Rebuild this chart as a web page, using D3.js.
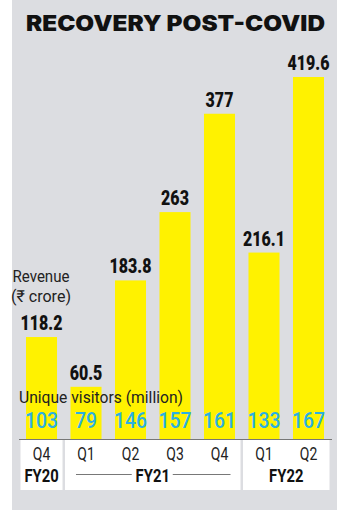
<!DOCTYPE html>
<html><head><meta charset="utf-8">
<script src="https://cdn.jsdelivr.net/npm/d3@7"></script>
<style>html,body{margin:0;padding:0;background:#fff;}svg{display:block;}</style>
</head><body>
<script>
const quarters = ["Q4","Q1","Q2","Q3","Q4","Q1","Q2"];
const fiscalYears = ["FY20","FY21","FY21","FY21","FY21","FY22","FY22"];
const revenue = [118.2,60.5,183.8,263,377,216.1,419.6];
const visitors = [103,79,146,157,161,133,167];
const groups = ["FY20","FY21","FY22"];

const W = 350, H = 510;
const FONT = "Roboto, sans-serif";
const svg = d3.select("body").append("svg").attr("width", W).attr("height", H);

svg.append("rect").attr("x",12).attr("y",0).attr("width",325).attr("height",H).attr("fill","#dcdde1");

svg.append("text").attr("x",26).attr("y",30.5)
  .attr("font-family","Inter, 'Open Sans', sans-serif").attr("font-weight",900)
  .attr("font-size",21.5).attr("fill","#111")
  .attr("textLength",299).attr("lengthAdjust","spacingAndGlyphs")
  .text("RECOVERY POST-COVID");

const idx = d3.range(quarters.length);
const x = d3.scaleBand().domain(idx).range([26,324]).paddingInner(0.303).paddingOuter(0);
const y = d3.scaleLinear().domain([0, d3.max(revenue)]).range([439, 77]);
const cx = i => x(i) + x.bandwidth()/2;

svg.selectAll("rect.bar").data(idx).join("rect").attr("class","bar")
  .attr("x", i => x(i)).attr("width", x.bandwidth())
  .attr("y", i => y(revenue[i])).attr("height", i => y(0) - y(revenue[i]))
  .attr("fill","#fff200");

svg.selectAll("text.val").data(idx).join("text").attr("class","val")
  .attr("transform", i => `translate(${cx(i)},${y(revenue[i]) - 7}) scale(0.78,1)`)
  .attr("text-anchor","middle").attr("font-family",FONT).attr("font-weight",900)
  .attr("font-size",20.5).attr("fill","#111").text(i => revenue[i]);

svg.append("text").attr("x",12.5).attr("y",281.5).attr("font-family",FONT)
  .attr("font-size",16.5).attr("fill","#222")
  .attr("textLength",57).attr("lengthAdjust","spacingAndGlyphs").text("Revenue");
svg.append("text").attr("x",11).attr("y",301.5).attr("font-family",FONT)
  .attr("font-size",16.5).attr("fill","#222")
  .attr("textLength",60).attr("lengthAdjust","spacingAndGlyphs").text("(₹ crore)");

svg.append("text").attr("x",19).attr("y",403).attr("font-family",FONT)
  .attr("font-size",16.5).attr("fill","#222")
  .attr("textLength",164).attr("lengthAdjust","spacingAndGlyphs").text("Unique visitors (million)");

svg.selectAll("text.vis").data(idx).join("text").attr("class","vis")
  .attr("transform", i => `translate(${cx(i)},428) scale(0.86,1)`)
  .attr("text-anchor","middle").attr("font-family",FONT).attr("font-weight",500)
  .attr("font-size",22.5).attr("fill","#2bb0e3").text(i => visitors[i]);

// group boxes
const boxes = groups.map(g => {
  const ii = idx.filter(i => fiscalYears[i] === g);
  return {g, x0: x(ii[0]) - 5.5, x1: x(ii[ii.length-1]) + x.bandwidth() + 5.5};
});
svg.selectAll("rect.box").data(boxes).join("rect").attr("class","box")
  .attr("x", d => d.x0).attr("y", 439).attr("width", d => d.x1 - d.x0).attr("height", 51)
  .attr("fill","#fff");
svg.append("line").attr("x1",19).attr("x2",332).attr("y1",439.5).attr("y2",439.5)
  .attr("stroke","#777").attr("stroke-width",1);

svg.selectAll("text.q").data(idx).join("text").attr("class","q")
  .attr("transform", i => `translate(${cx(i)},459.5) scale(0.8,1)`)
  .attr("text-anchor","middle").attr("font-family",FONT)
  .attr("font-size",17.5).attr("fill","#222").text(i => quarters[i]);

boxes.forEach(b => {
  const mx = (b.x0 + b.x1)/2;
  svg.append("text").attr("transform", `translate(${mx},482) scale(0.8,1)`).attr("text-anchor","middle")
    .attr("font-family",FONT).attr("font-weight",700).attr("font-size",18.5)
    .attr("fill","#111").text(b.g);
  if (b.g === "FY21") {
    svg.append("line").attr("x1", b.x0 + 11).attr("x2", mx - 21).attr("y1",474.5).attr("y2",474.5)
      .attr("stroke","#555").attr("stroke-width",0.8);
    svg.append("line").attr("x1", mx + 20).attr("x2", b.x1 - 10).attr("y1",474.5).attr("y2",474.5)
      .attr("stroke","#555").attr("stroke-width",0.8);
  }
});
</script>
</body></html>
